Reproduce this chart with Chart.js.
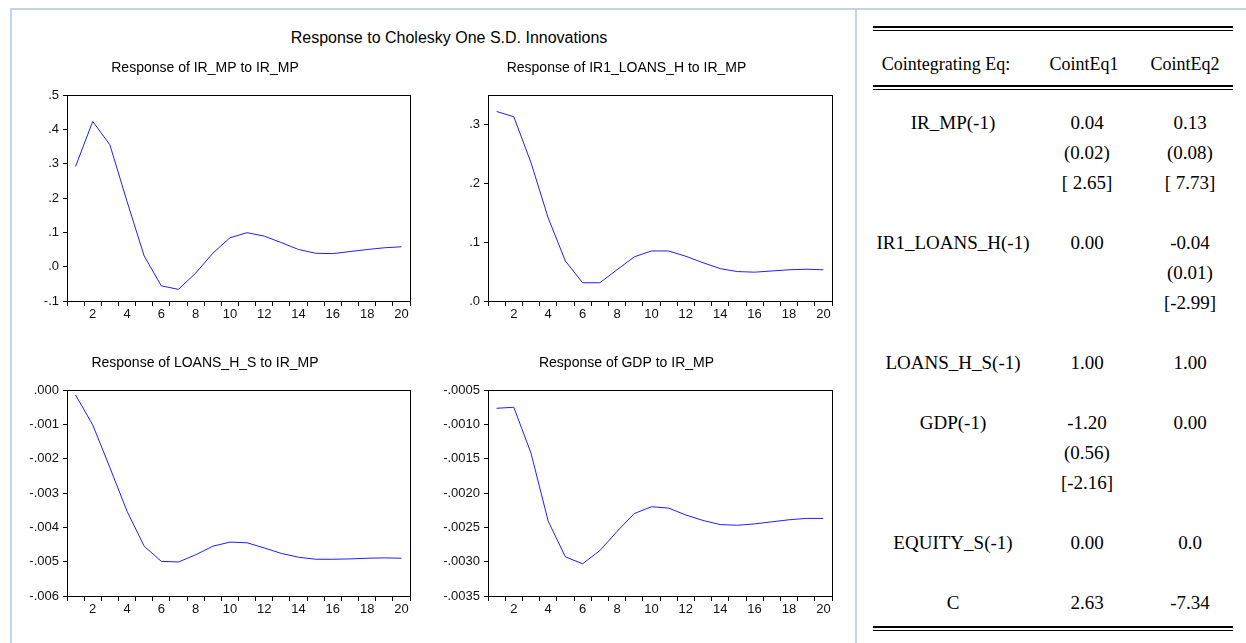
<!DOCTYPE html>
<html>
<head>
<meta charset="utf-8">
<script src="https://cdn.jsdelivr.net/npm/chart.js@4.4.1/dist/chart.umd.min.js"></script>
<style>
  body { margin: 0; background: #fff; width: 1246px; height: 643px; overflow: hidden; position: relative; font-family: Arial, 'Liberation Sans', sans-serif; }
  .rule { position: absolute; background: #c3d3ea; }
  .main-title { position: absolute; left: 0; top: 28px; width: 898px; text-align: center; font-size: 16px; line-height: 20px; color: #000; }
  canvas { position: absolute; }
  .tbl { position: absolute; font-family: 'Times New Roman', 'Liberation Serif', serif; font-size: 19px; color: #000; }
  .tline { position: absolute; left: 0; height: 30px; line-height: 30px; white-space: pre; }
  .tcell { position: absolute; top: 0; text-align: center; }
  .head { font-size: 18px; }
  .bar { position: absolute; left: 873px; width: 360px; background: #000; }
</style>
</head>
<body>
<div class="rule" style="left:10px; top:8px; width:1236px; height:2px;"></div>
<div class="rule" style="left:10px; top:8px; width:2px; height:635px;"></div>
<div class="rule" style="left:855px; top:8px; width:2px; height:635px;"></div>

<div class="main-title">Response to Cholesky One S.D. Innovations</div>

<canvas id="c1" width="422" height="274" style="left:0px; top:55px;"></canvas>
<canvas id="c2" width="423" height="274" style="left:421px; top:55px;"></canvas>
<canvas id="c3" width="422" height="274" style="left:0px; top:350px;"></canvas>
<canvas id="c4" width="423" height="274" style="left:421px; top:350px;"></canvas>

<div class="bar" style="top:26px; height:2px;"></div>
<div class="bar" style="top:30px; height:1px;"></div>
<div class="bar" style="top:85px; height:2px;"></div>
<div class="bar" style="top:89px; height:1px;"></div>
<div class="bar" style="top:626px; height:2px;"></div>
<div class="bar" style="top:630px; height:1px;"></div>
<div class="tbl" id="tbl"></div>

<script>
// 충격반응 기간
const periods = ['1', '2', '3', '4', '5', '6', '7', '8', '9', '10', '11', '12', '13', '14', '15', '16', '17', '18', '19', '20'];

// 각 변수의 IR_MP 충격 반응
const irMpResp = [0.292, 0.423, 0.355, 0.19, 0.031, -0.056, -0.066, -0.019, 0.039, 0.084, 0.099, 0.089, 0.07, 0.05, 0.039, 0.038, 0.044, 0.05, 0.055, 0.058];
const ir1LoansResp = [0.322, 0.313, 0.235, 0.141, 0.068, 0.031, 0.031, 0.053, 0.075, 0.085, 0.085, 0.076, 0.065, 0.055, 0.05, 0.049, 0.051, 0.053, 0.054, 0.053];
const loansResp = [-0.000145, -0.001016, -0.00226, -0.00353, -0.00455, -0.00499, -0.00501, -0.0048, -0.00455, -0.00443, -0.00445, -0.0046, -0.00476, -0.00487, -0.00493, -0.00493, -0.00492, -0.0049, -0.00489, -0.0049];
const gdpResp = [-0.000766, -0.000752, -0.00142, -0.00241, -0.00293, -0.00303, -0.00284, -0.00256, -0.0023, -0.0022, -0.00222, -0.00232, -0.0024, -0.00246, -0.00247, -0.00245, -0.00242, -0.00239, -0.00237, -0.00237];

// 공적분 방정식 표
const coefNames = ['IR_MP(-1)', 'IR1_LOANS_H(-1)', 'LOANS_H_S(-1)', 'GDP(-1)', 'EQUITY_S(-1)', 'C'];
const eq1Coef = ['0.04', '0.00', '1.00', '-1.20', '0.00', '2.63'];
const eq1Se = ['(0.02)', '', '', '(0.56)', '', ''];
const eq1T = ['[ 2.65]', '', '', '[-2.16]', '', ''];
const eq2Coef = ['0.13', '-0.04', '1.00', '0.00', '0.0', '-7.34'];
const eq2Se = ['(0.08)', '(0.01)', '', '', '', ''];
const eq2T = ['[ 7.73]', '[-2.99]', '', '', '', ''];

Chart.defaults.font.family = "Arial, 'Liberation Sans', sans-serif";
Chart.defaults.color = '#111';

// 플롯 영역 테두리
const framePlugin = {
  id: 'frame',
  afterDraw(chart) {
    const a = chart.chartArea;
    const ctx = chart.ctx;
    ctx.save();
    ctx.strokeStyle = '#000';
    ctx.lineWidth = 1;
    ctx.strokeRect(Math.round(a.left) + 0.5, Math.round(a.top) + 0.5, Math.round(a.right - a.left), Math.round(a.bottom - a.top));
    ctx.restore();
  },
};

// y축 라벨: 앞자리 0 제거 (.5, -.001 ...)
function tickFormat(decimals) {
  return function (value) {
    let s = Number(value).toFixed(decimals);
    s = s.replace(/^(-?)0\./, '$1.');
    if (/^-\.0+$/.test(s)) s = s.substring(1);
    return s;
  };
}

function makeChart(id, title, values, yMin, yMax, yStep, decimals, zeroLine) {
  return new Chart(document.getElementById(id), {
    type: 'line',
    data: {
      labels: periods,
      datasets: [
        {
          data: values,
          borderColor: '#1e1eff',
          borderWidth: 1,
          pointRadius: 0,
          tension: 0,
          fill: false,
        },
      ],
    },
    plugins: [framePlugin],
    options: {
      responsive: false,
      animation: false,
      events: [],
      layout: { padding: { top: 0, right: 12, bottom: 0, left: 0 } },
      plugins: {
        legend: { display: false },
        tooltip: { enabled: false },
        title: {
          display: true,
          text: title,
          color: '#000',
          font: { size: 14, weight: 'normal', lineHeight: 1 },
          padding: { top: 6, bottom: 20 },
        },
      },
      scales: {
        x: {
          type: 'category',
          offset: true,
          border: { display: false },
          grid: {
            offset: true,
            drawOnChartArea: false,
            drawTicks: true,
            tickLength: 5,
            tickColor: '#000',
          },
          ticks: {
            autoSkip: false,
            maxRotation: 0,
            padding: 1,
            font: { size: 13 },
            callback: function (val) {
              const l = this.getLabelForValue(val);
              return Number(l) % 2 === 0 ? l : '';
            },
          },
          afterFit: function (scale) {
            scale.height = 28;
          },
        },
        y: {
          min: yMin,
          max: yMax,
          border: { display: false },
          grid: {
            drawOnChartArea: zeroLine,
            drawTicks: true,
            tickLength: 4,
            tickColor: '#000',
            color: function (ctx) {
              return ctx.tick && ctx.tick.value === 0 ? '#000' : 'rgba(0,0,0,0)';
            },
          },
          ticks: {
            stepSize: yStep,
            includeBounds: false,
            padding: 4,
            font: { size: 13 },
            callback: tickFormat(decimals),
          },
          afterFit: function (scale) {
            scale.width = 67;
          },
        },
      },
    },
  });
}

makeChart('c1', 'Response of IR_MP to IR_MP', irMpResp, -0.1, 0.5, 0.1, 1, true);
makeChart('c2', 'Response of IR1_LOANS_H to IR_MP', ir1LoansResp, 0, 0.35, 0.1, 1, false);
makeChart('c3', 'Response of LOANS_H_S to IR_MP', loansResp, -0.006, 0, 0.001, 3, false);
makeChart('c4', 'Response of GDP to IR_MP', gdpResp, -0.0035, -0.0005, 0.0005, 4, false);

// 표 그리기
const tbl = document.getElementById('tbl');
const colLeft = [873, 1033, 1141];
const colWidth = [160, 108, 98];

function addLine(top, texts, lefts, widths, cls) {
  const line = document.createElement('div');
  line.className = 'tline' + (cls ? ' ' + cls : '');
  line.style.top = top + 'px';
  texts.forEach(function (t, i) {
    const cell = document.createElement('div');
    cell.className = 'tcell';
    cell.style.left = lefts[i] + 'px';
    cell.style.width = widths[i] + 'px';
    cell.textContent = t;
    line.appendChild(cell);
  });
  tbl.appendChild(line);
}

addLine(49, ['Cointegrating Eq:', 'CointEq1', 'CointEq2'], [873, 1019, 1149], [146, 130, 72], 'head');

let y = 108;
coefNames.forEach(function (name, i) {
  addLine(y, [name, eq1Coef[i], eq2Coef[i]], colLeft, colWidth);
  y += 30;
  if (eq1Se[i] || eq2Se[i]) {
    addLine(y, ['', eq1Se[i], eq2Se[i]], colLeft, colWidth);
    y += 30;
    addLine(y, ['', eq1T[i], eq2T[i]], colLeft, colWidth);
    y += 30;
  }
  y += 30;
});
</script>
</body>
</html>
